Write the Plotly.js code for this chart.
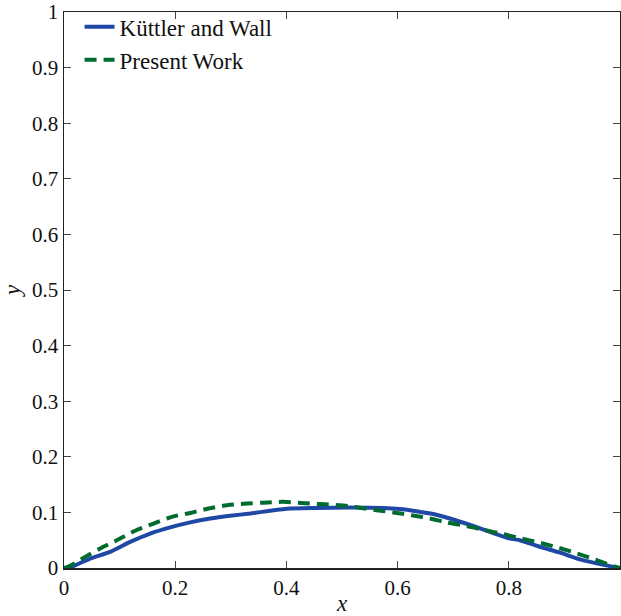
<!DOCTYPE html>
<html>
<head>
<meta charset="utf-8">
<script src="https://cdn.plot.ly/plotly-3.0.1.min.js"></script>
<style>html,body{margin:0;padding:0;background:#fff;}#chart{width:621px;height:616px;}</style>
</head>
<body>
<div id="chart"></div>
<script>
// Küttler and Wall
const kwX = [0, 0.011, 0.047, 0.083, 0.119, 0.155, 0.191, 0.227, 0.263, 0.299, 0.335, 0.371, 0.406, 0.454, 0.514, 0.574, 0.604, 0.634, 0.664, 0.694, 0.736, 0.766, 0.802, 0.820, 0.856, 0.892, 0.928, 0.964, 1.0];
const kwY = [0, 0.001, 0.017, 0.029, 0.047, 0.062, 0.073, 0.082, 0.089, 0.094, 0.098, 0.103, 0.107, 0.108, 0.109, 0.108, 0.106, 0.102, 0.097, 0.089, 0.0755, 0.065, 0.053, 0.050, 0.038, 0.0275, 0.0155, 0.007, 0];
// Present Work
const pwX = [0, 0.011, 0.038, 0.065, 0.095, 0.128, 0.161, 0.194, 0.227, 0.26, 0.293, 0.329, 0.358, 0.394, 0.427, 0.46, 0.496, 0.529, 0.562, 0.592, 0.625, 0.658, 0.688, 0.724, 0.757, 0.79, 0.823, 0.856, 0.889, 0.922, 0.955, 0.988, 1.0];
const pwY = [0, 0.004, 0.020, 0.035, 0.050, 0.067, 0.080, 0.092, 0.099, 0.107, 0.113, 0.116, 0.1175, 0.119, 0.117, 0.115, 0.113, 0.109, 0.104, 0.100, 0.095, 0.089, 0.082, 0.0755, 0.068, 0.061, 0.053, 0.0455, 0.0365, 0.0265, 0.0155, 0.0035, 0];
const xTicks = [0, 0.2, 0.4, 0.6, 0.8, 1];
const xTickText = ['0', '0.2', '0.4', '0.6', '0.8', '1'];
const yTicks = [0, 0.1, 0.2, 0.3, 0.4, 0.5, 0.6, 0.7, 0.8, 0.9, 1];
const yTickText = ['0', '0.1', '0.2', '0.3', '0.4', '0.5', '0.6', '0.7', '0.8', '0.9', '1'];

const FONT = 'Liberation Serif';
const traces = [
  {x: kwX, y: kwY, mode: 'lines', name: 'Küttler and Wall',
   line: {color: '#1f48a6', width: 4, shape: 'spline', smoothing: 0.5}},
  {x: pwX, y: pwY, mode: 'lines', name: 'Present Work',
   line: {color: '#006b2f', width: 4, dash: '12px,7px', shape: 'spline', smoothing: 0.8}}
];
function axisBase() {
  return {
    showgrid: false, zeroline: false, showline: true, linecolor: '#222', linewidth: 1.5,
    mirror: 'ticks', ticks: 'inside', ticklen: 7, tickwidth: 1, tickcolor: '#444',
    tickfont: {family: FONT, size: 21, color: '#111'}
  };
}
const layout = {
  width: 621, height: 616,
  font: {family: FONT, size: 21, color: '#111'},
  margin: {l: 64, r: 1, t: 12, b: 48},
  paper_bgcolor: '#fff', plot_bgcolor: '#fff',
  showlegend: true,
  legend: {x: 0.028, y: 1.012, xanchor: 'left', yanchor: 'top', bgcolor: 'rgba(0,0,0,0)',
           font: {family: FONT, size: 23, color: '#111'}, tracegroupgap: 0},
  xaxis: Object.assign(axisBase(), {range: [0, 1], tickvals: xTicks, ticktext: xTickText,
    title: {text: '<i>x</i>', font: {family: FONT, size: 23, color: '#111'}, standoff: 0}}),
  yaxis: Object.assign(axisBase(), {range: [0, 1], tickvals: yTicks, ticktext: yTickText,
    title: {text: '<i>y</i>', font: {family: FONT, size: 23, color: '#111'}, standoff: 6}})
};
Plotly.newPlot('chart', traces, layout, {displayModeBar: false, staticPlot: true});
</script>
</body>
</html>
